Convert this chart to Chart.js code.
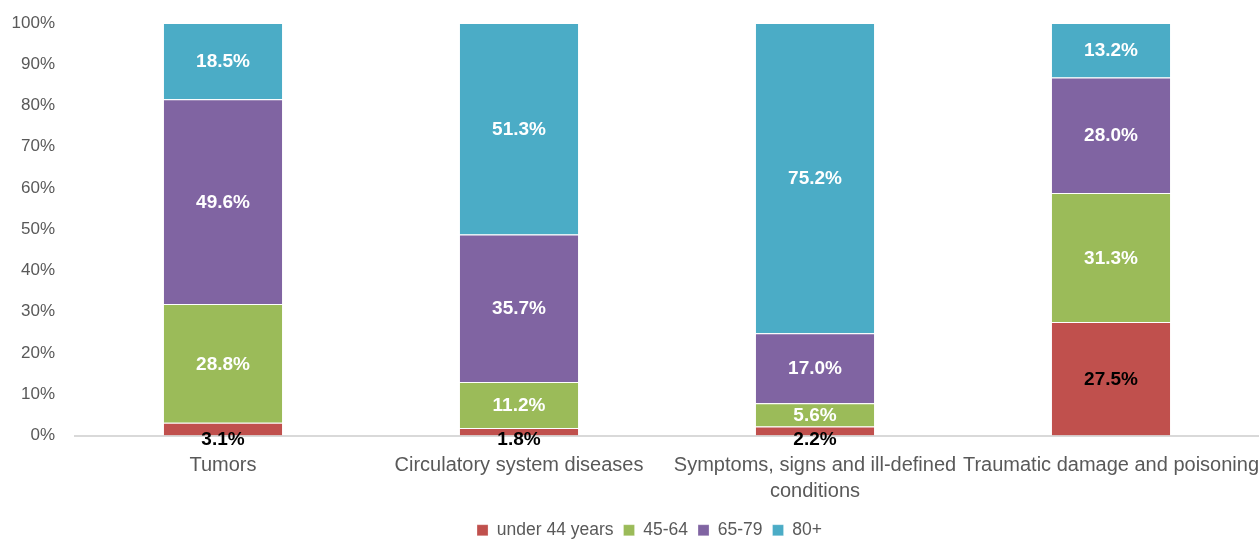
<!DOCTYPE html>
<html>
<head>
<meta charset="utf-8">
<script src="https://cdn.jsdelivr.net/npm/chart.js@4"></script>
<style>
  html, body { margin: 0; padding: 0; background: #ffffff; }
  #wrap { width: 1259px; height: 542px; position: relative; }
</style>
</head>
<body>
<div id="wrap"><canvas id="ageChart"></canvas></div>
<script>
// Chart data
const categories = [
  'Tumors',
  'Circulatory system diseases',
  ['Symptoms, signs and ill-defined', 'conditions'],
  'Traumatic damage and poisoning'
];
const seriesNames = ['under 44 years', '45-64', '65-79', '80+'];
const under44 = [3.1, 1.8, 2.2, 27.5];
const age45to64 = [28.8, 11.2, 5.6, 31.3];
const age65to79 = [49.6, 35.7, 17.0, 28.0];
const age80plus = [18.5, 51.3, 75.2, 13.2];
const seriesColors = ['#C0504D', '#9BBB59', '#8064A2', '#4BACC6'];
const labelColors = ['#000000', '#ffffff', '#ffffff', '#ffffff'];

const fontFamily = '"Liberation Sans", Arial, sans-serif';

// Simple inline value labels (no datalabels plugin available)
const valueLabels = {
  id: 'valueLabels',
  afterDatasetsDraw(chart) {
    const ctx = chart.ctx;
    ctx.save();
    ctx.font = 'bold 19px ' + fontFamily;
    ctx.textAlign = 'center';
    ctx.textBaseline = 'middle';
    chart.data.datasets.forEach((ds, i) => {
      const meta = chart.getDatasetMeta(i);
      meta.data.forEach((bar, j) => {
        const v = ds.data[j];
        let y = (bar.y + bar.base) / 2 + 1;
        // tiny bottom segments: label sits across the axis line
        if (i === 0 && bar.base - bar.y < 30) y = bar.base + 4;
        ctx.fillStyle = labelColors[i];
        ctx.fillText(v.toFixed(1) + '%', bar.x, y);
      });
    });
    ctx.restore();
  }
};

// nudge the legend a bit right, like the original
const legendShift = {
  id: 'legendShift',
  afterLayout(chart) {
    if (chart.legend) {
      chart.legend.left += 15;
      chart.legend.right += 15;
    }
  }
};

const datasets = [under44, age45to64, age65to79, age80plus].map((data, i) => ({
  label: seriesNames[i],
  data: data,
  backgroundColor: seriesColors[i],
  borderColor: '#ffffff',
  borderWidth: { top: 1, left: 0, right: 0, bottom: 0 },
  borderSkipped: false,
  categoryPercentage: 1.0,
  barPercentage: 0.4
}));

new Chart(document.getElementById('ageChart').getContext('2d'), {
  type: 'bar',
  data: { labels: categories, datasets: datasets },
  plugins: [valueLabels, legendShift],
  options: {
    responsive: true,
    maintainAspectRatio: false,
    animation: false,
    layout: { padding: { left: 10, right: 0, top: 23, bottom: -7 } },
    plugins: {
      legend: {
        position: 'bottom',
        labels: {
          boxWidth: 11,
          boxHeight: 11,
          padding: 10,
          color: '#595959',
          font: { family: fontFamily, size: 17.5 }
        }
      },
      tooltip: { enabled: false }
    },
    scales: {
      x: {
        stacked: true,
        grid: { display: false, drawTicks: false },
        border: { display: true, color: '#d9d9d9', width: 2 },
        afterFit: function(scale) {
          scale.paddingLeft = 0;
          scale.paddingRight = 0;
          scale.height = 76;
        },
        ticks: {
          color: '#595959',
          padding: 17,
          maxRotation: 0,
          autoSkip: false,
          font: { family: fontFamily, size: 20, lineHeight: 1.3 }
        }
      },
      y: {
        stacked: true,
        min: 0,
        max: 100,
        grid: { display: false, drawTicks: false },
        border: { display: false },
        afterFit: function(scale) {
          scale.width = 65;
          scale.paddingTop = 0;
          scale.paddingBottom = 0;
        },
        ticks: {
          stepSize: 10,
          padding: 20,
          color: '#595959',
          font: { family: fontFamily, size: 17 },
          callback: function(value) { return value + '%'; }
        }
      }
    }
  }
});
</script>
</body>
</html>
